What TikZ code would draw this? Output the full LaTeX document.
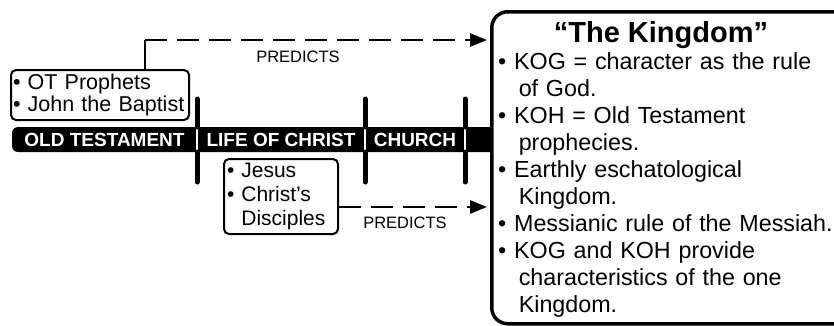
\documentclass[tikz,border=0pt]{standalone}
\usepackage{fontspec}
\setmainfont{Liberation Sans}
\usetikzlibrary{arrows.meta,calc}
\newlength\bulletwd
\newlength\hangextra
\newcommand\bitem[1]{\noindent\settowidth\bulletwd{\textbullet\ }\hangindent\bulletwd\advance\hangindent\hangextra\hangafter1\textbullet\ #1\par}

\begin{document}
\begin{tikzpicture}[x=1pt,y=-1pt,
	era/.style={font=\bfseries\fontsize{19}{19}\selectfont, text=white, anchor=base, inner sep=0pt},
	tickline/.style={line width=5pt, line cap=round},
	gapline/.style={white, line width=2.4pt, line cap=round},
	group/.style={draw, rounded corners=5pt, line width=2pt, anchor=north west, inner sep=0pt},
	predict/.style={line width=2.6pt, dash pattern=on 22pt off 10pt, -{Triangle[length=17pt,width=13pt]}, shorten >=3pt},
	predlabel/.style={font=\fontsize{16.5}{16.5}\selectfont, anchor=base, inner sep=0pt}]
			%%%%% START %%%%%
			\useasboundingbox (0,0) rectangle (834,325);
			
			\fill[rounded corners=6pt] (12,127) rectangle (500,152);
			\foreach \x/\n in {197/a,365/b,465/c}{
				\coordinate (tick\n) at (\x,139.5);
				\draw[tickline] (\x,99) -- (\x,182);
				\draw[gapline] (\x,130) -- (\x,149);
			}
			\node[era] (oldtest) at (104.5,146) {OLD TESTAMENT};
			\node[era] (lifechrist) at (281,146) {LIFE OF CHRIST};
			\node[era] (church) at (415,146) {CHURCH};
			
			\node[draw, line width=3.5pt, rounded corners=16pt, fill=white, minimum width=360pt, minimum height=312pt, anchor=north west] (kingdom) at (490,10) {};
			\node[font=\bfseries\fontsize{29}{29}\selectfont, anchor=base, inner sep=0pt] (title) at (661,42) {“The Kingdom”};
			\node[anchor=base west, inner sep=0pt, text width=360pt, font=\fontsize{23.3}{27.1}\selectfont] (traits) at (498,69) {\raggedright\setlength\hangextra{0.2em}%
				\bitem{KOG = character as the rule\newline of God.}
				\bitem{KOH = Old Testament\newline prophecies.}
				\bitem{Earthly eschatological\newline Kingdom.}
				\bitem{Messianic rule of the Messiah.}
				\bitem{KOG and KOH provide\newline characteristics of the one\newline Kingdom.}};
			
			\node[group, minimum width=178pt, minimum height=50pt, text width=174pt, font=\fontsize{21.5}{22.5}\selectfont] (prophets) at (10,69) {\raggedright
				\bitem{OT Prophets}
				\bitem{John the Baptist}};
			\node[group, minimum width=114pt, minimum height=75pt, text width=108pt, font=\fontsize{21}{24}\selectfont] (jesus) at (223,158) {\raggedright
				\bitem{Jesus}
				\bitem{Christ’s\newline Disciples}};
			
			\coordinate (bend) at (145,40);
			\draw[line width=2.6pt] (prophets.north -| bend) -- (bend);
			\draw[predict] (bend) -- (kingdom.west |- bend);
			\node[predlabel] (predtop) at (298,62) {PREDICTS};
			
			\coordinate (jesusout) at (jesus.east |- 0,207);
			\draw[predict] (jesusout) -- (kingdom.west |- jesusout);
			\node[predlabel] (predlow) at (405,228) {PREDICTS};
			%%%%% END %%%%%
\end{tikzpicture}
\end{document}
